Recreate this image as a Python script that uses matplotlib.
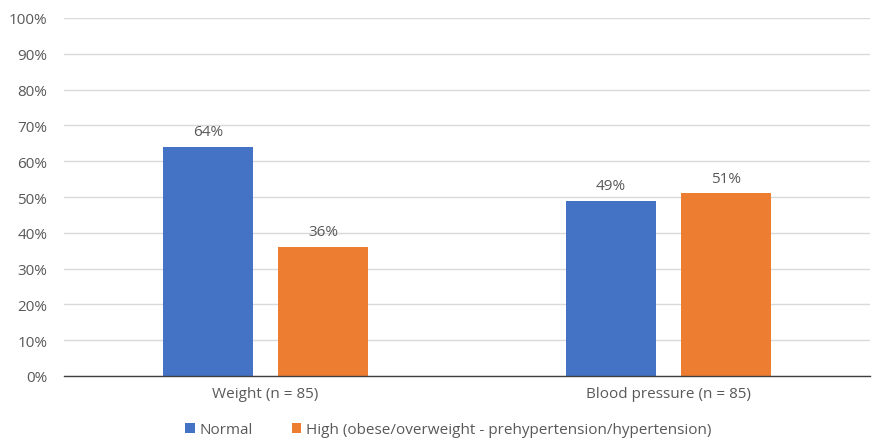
import numpy as np
import matplotlib.pyplot as plt

# data
categories = ["Weight (n = 85)", "Blood pressure (n = 85)"]
series_names = ["Normal", "High (obese/overweight - prehypertension/hypertension)"]
normal_vals = [0.64, 0.49]
high_vals = [0.36, 0.51]
y_ticks = [0.0, 0.1, 0.2, 0.3, 0.4, 0.5, 0.6, 0.7, 0.8, 0.9, 1.0]

COLORS = ["#4472C4", "#ED7D31"]
TEXT = "#595959"
FS = 11

plt.rcParams['font.family'] = ['Open Sans', 'DejaVu Sans']

fig = plt.figure(figsize=(8.74, 4.39), dpi=100)
ax = fig.add_axes([64 / 874, 1 - 377 / 439, (870 - 64) / 874, (377 - 19) / 439])

x = np.arange(len(categories))
width = 0.223
offset = 0.143

for vals, off, color, name in zip([normal_vals, high_vals], [-offset, offset], COLORS, series_names):
    bars = ax.bar(x + off, vals, width, color=color, label=name, zorder=3)
    for b, v in zip(bars, vals):
        ax.text(b.get_x() + b.get_width() / 2, v + 0.022, f"{v:.0%}",
                ha='center', va='bottom', fontsize=FS, color=TEXT)

ax.set_xlim(-0.5, 1.5)
ax.set_ylim(0, 1.0)
ax.set_yticks(y_ticks)
ax.set_yticklabels([f"{t:.0%}" for t in y_ticks])
ax.set_xticks(x)
ax.set_xticklabels(categories)
ax.tick_params(axis='both', length=0, labelsize=FS, labelcolor=TEXT)
ax.tick_params(axis='y', pad=12)
ax.tick_params(axis='x', pad=7)

ax.grid(axis='y', color='#D9D9D9', linewidth=1, zorder=0)
for s in ['top', 'right', 'left']:
    ax.spines[s].set_visible(False)
ax.spines['bottom'].set_color('#404040')
ax.spines['bottom'].set_linewidth(1)
ax.spines['bottom'].set_zorder(4)

fig.legend(loc='lower center', bbox_to_anchor=(0.513, -0.03), ncol=2, frameon=False,
           fontsize=FS, labelcolor=TEXT, handlelength=0.6, handleheight=0.6,
           handletextpad=0.3, columnspacing=2.6)

fig.savefig("out.png", dpi=100)
